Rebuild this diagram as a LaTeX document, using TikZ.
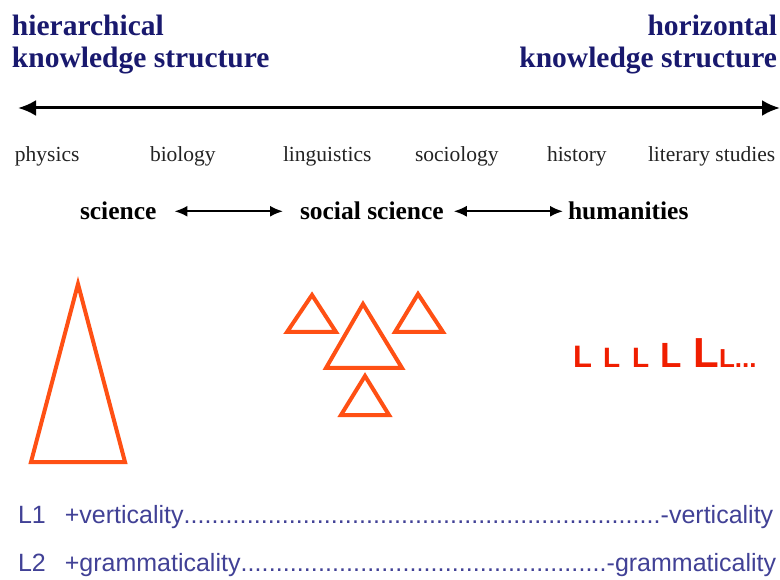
\documentclass[tikz,border=0pt]{standalone}
\usepackage{fontspec}
\setmainfont{Liberation Serif}
\newfontfamily\arialf{Liberation Sans}
\usetikzlibrary{arrows.meta}
\definecolor{navy}{RGB}{25,25,110}
\definecolor{bluetxt}{RGB}{65,65,150}
\definecolor{orng}{RGB}{255,80,20}
\definecolor{redL}{RGB}{240,30,0}
\definecolor{graytxt}{RGB}{35,35,35}
\tikzset{
  txt/.style={inner sep=0pt, outer sep=0pt},
  title/.style={txt, text=navy, font=\bfseries\fontsize{29.5}{32}\selectfont},
  disc/.style={txt, anchor=base west, text=graytxt, font=\fontsize{21.5}{24}\selectfont},
  field/.style={txt, anchor=base west, text=black, font=\bfseries\fontsize{25.5}{28}\selectfont},
  tri/.style={draw=orng, line width=4pt, line join=miter},
  ell/.style={txt, anchor=base west, text=redL},
  scaletxt/.style={txt, anchor=base west, text=bluetxt},
  axis/.style={line width=3pt, {Latex[length=18pt,width=16pt]}-{Latex[length=18pt,width=16pt]}},
  link/.style={line width=2pt, {Latex[length=13pt,width=11pt]}-{Latex[length=13pt,width=11pt]}}
}
\begin{document}
\begin{tikzpicture}[x=1pt,y=-1pt]
\useasboundingbox[fill=white] (0,0) rectangle (780,580);
% titles
\node[title, anchor=base west] (h1) at (12,36) {hierarchical};
\node[title, anchor=base west] (h2) at (12,68) {knowledge structure};
\node[title, anchor=base east] (z1) at (777,36) {horizontal};
\node[title, anchor=base east] (z2) at (777,68) {knowledge structure};
% axis
\coordinate (axL) at (18,108);
\coordinate (axR) at (780,108);
\draw[axis] (axL) -- (axR);
% disciplines
\node[disc] (phy) at (15,162) {physics};
\node[disc] (bio) at (150,162) {biology};
\node[disc] (lin) at (283,162) {linguistics};
\node[disc] (soc) at (415,162) {sociology};
\node[disc] (his) at (547,162) {history};
\node[disc] (lit) at (648,162) {literary studies};
% fields
\node[field] (sci) at (80,220) {science};
\node[field] (ssc) at (300,220) {social science};
\node[field] (hum) at (568,220) {humanities};
\draw[link] ([xshift=18pt]sci.east) -- ([xshift=-17pt]sci.east -| ssc.west);
\draw[link] ([xshift=10pt]ssc.east) -- ([xshift=-5pt]ssc.east -| hum.west);
% triangles
\draw[tri] (78,284) -- (31,462) -- (125,462) -- cycle;
\draw[tri] (312,295) -- (287,332) -- (336,332) -- cycle;
\draw[tri] (363,304) -- (326,368) -- (402,368) -- cycle;
\draw[tri] (418,294) -- (395,332) -- (443,332) -- cycle;
\draw[tri] (365,376) -- (341,415) -- (389,415) -- cycle;
% L's
\node[ell, font=\arialf\bfseries\fontsize{31}{31}\selectfont] (l1) at (573,367) {L};
\node[ell, font=\arialf\bfseries\fontsize{28}{28}\selectfont] (l2) at (603,367) {L};
\node[ell, font=\arialf\bfseries\fontsize{28}{28}\selectfont] (l3) at (632,367) {L};
\node[ell, font=\arialf\bfseries\fontsize{35}{35}\selectfont] (l4) at (660,367) {L};
\node[ell, font=\arialf\bfseries\fontsize{42}{42}\selectfont] (l5) at (693,367) {L};
\node[ell, font=\arialf\bfseries\fontsize{26}{26}\selectfont] (l6) at (719,367) {L...};
% scales
\node[scaletxt, font=\arialf\fontsize{25}{28}\selectfont] (s1) at (18,523)
  {\makebox[755pt][l]{L1\hspace{19pt}+verticality\xleaders\hbox{.}\hfill-verticality}};
\node[scaletxt, font=\arialf\fontsize{25}{28}\selectfont] (s2) at (18,571)
  {\makebox[758pt][l]{L2\hspace{19pt}+grammaticality\xleaders\hbox{.}\hfill-grammaticality}};
\end{tikzpicture}
\end{document}
